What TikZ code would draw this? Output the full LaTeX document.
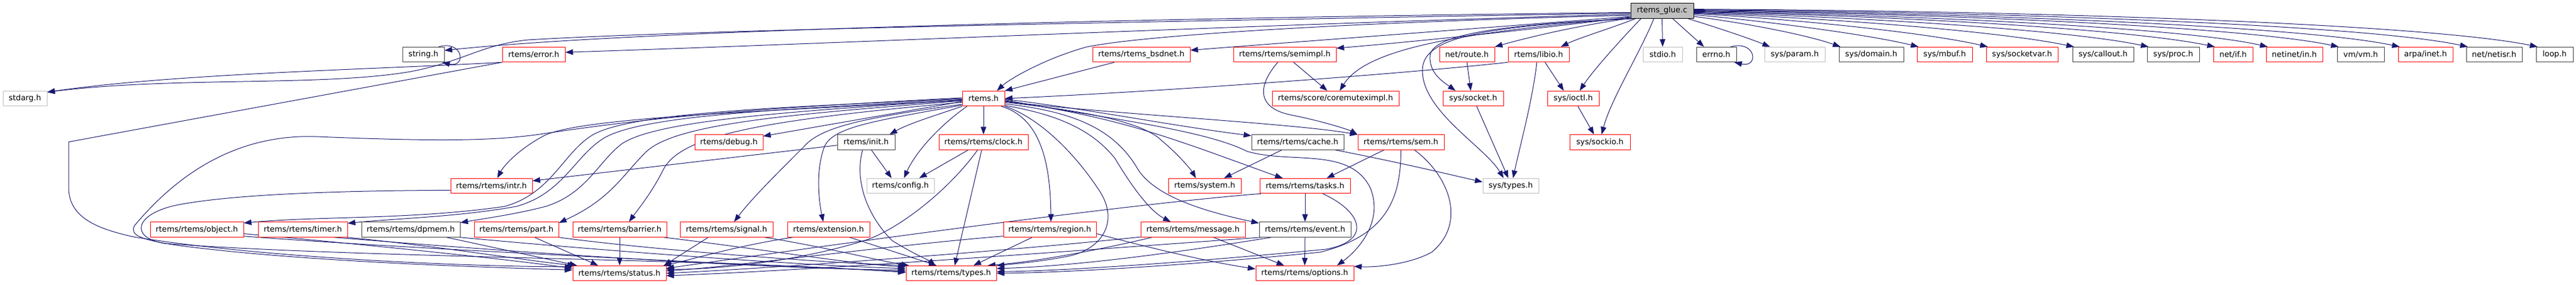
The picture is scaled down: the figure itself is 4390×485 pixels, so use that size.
\documentclass[tikz,border=0pt]{standalone}
\usepackage{fontspec}
\setmainfont{DejaVu Sans}
\usetikzlibrary{arrows.meta}
\definecolor{edgecol}{HTML}{191970}
\definecolor{redc}{HTML}{FF0000}
\definecolor{grayc}{HTML}{BFBFBF}
\definecolor{darkc}{HTML}{404040}
\pgfdeclarelayer{bg}
\pgfsetlayers{bg,main}
\begin{document}
\begin{tikzpicture}[x=1pt,y=-1pt,
  box/.style={rectangle, draw=#1, line width=1pt, fill=white, minimum height=25.5pt, inner sep=0pt, font=\fontsize{13.3}{15}\selectfont, text=black},
  redbox/.style={box=redc}, blkbox/.style={box=darkc}, graybox/.style={box=grayc},
  gluebox/.style={box=black, fill=grayc},
  dep/.style={draw=edgecol, line width=1pt, -{Triangle[length=13pt,width=9.5pt]}}]
\useasboundingbox (0,0) rectangle (4390,485);
% row 0
\node[gluebox, minimum width=107pt] (glue) at (2832.5,18.5) {rtems\_glue.c};
% row 1
\node[blkbox, minimum width=71pt] (string) at (721.5,93) {string.h};
\node[redbox, minimum width=107pt] (error) at (909.5,93) {rtems/error.h};
\node[redbox, minimum width=166pt] (bsdnet) at (1945,93) {rtems/rtems\_bsdnet.h};
\node[redbox, minimum width=175pt] (semimpl) at (2189.5,93) {rtems/rtems/semimpl.h};
\node[redbox, minimum width=94pt] (route) at (2500,93) {net/route.h};
\node[redbox, minimum width=104pt] (libio) at (2622,93) {rtems/libio.h};
\node[graybox, minimum width=67pt] (stdio) at (2833.5,93) {stdio.h};
\node[blkbox, minimum width=68pt] (errno) at (2925,93) {errno.h};
\node[graybox, minimum width=103pt] (param) at (3058.5,93) {sys/param.h};
\node[blkbox, minimum width=110pt] (domain) at (3189,93) {sys/domain.h};
\node[redbox, minimum width=94pt] (mbuf) at (3314,93) {sys/mbuf.h};
\node[redbox, minimum width=122pt] (socketvar) at (3446,93) {sys/socketvar.h};
\node[blkbox, minimum width=104pt] (callout) at (3584,93) {sys/callout.h};
\node[blkbox, minimum width=89pt] (proc) at (3703.5,93) {sys/proc.h};
\node[redbox, minimum width=67pt] (netif) at (3805.5,93) {net/if.h};
\node[redbox, minimum width=96pt] (netinetin) at (3910,93) {netinet/in.h};
\node[blkbox, minimum width=80pt] (vm) at (4023,93) {vm/vm.h};
\node[redbox, minimum width=93pt] (arpainet) at (4133.5,93) {arpa/inet.h};
\node[blkbox, minimum width=95pt] (netisr) at (4250.5,93) {net/netisr.h};
\node[blkbox, minimum width=63pt] (loop) at (4353.5,93) {loop.h};
% row 2
\node[graybox, minimum width=75pt] (stdarg) at (42.5,168) {stdarg.h};
\node[redbox, minimum width=72pt] (rtemsh) at (1676,168) {rtems.h};
\node[redbox, minimum width=216pt] (coremutex) at (2276,168) {rtems/score/coremuteximpl.h};
\node[redbox, minimum width=103pt] (socket) at (2510.5,168) {sys/socket.h};
\node[redbox, minimum width=88pt] (ioctl) at (2681,168) {sys/ioctl.h};
% row 3
\node[redbox, minimum width=116pt] (debug) at (1242,242.5) {rtems/debug.h};
\node[blkbox, minimum width=98pt] (init) at (1476,242.5) {rtems/init.h};
\node[redbox, minimum width=152pt] (clock) at (1676,242.5) {rtems/rtems/clock.h};
\node[blkbox, minimum width=157pt] (cache) at (2211.5,242.5) {rtems/rtems/cache.h};
\node[redbox, minimum width=147pt] (sem) at (2387.5,242.5) {rtems/rtems/sem.h};
\node[redbox, minimum width=103pt] (sockio) at (2726.5,242.5) {sys/sockio.h};
% row 4
\node[redbox, minimum width=139pt] (intr) at (837.5,317) {rtems/rtems/intr.h};
\node[graybox, minimum width=115pt] (config) at (1534.5,317) {rtems/config.h};
\node[redbox, minimum width=124pt] (system) at (2053,317) {rtems/system.h};
\node[redbox, minimum width=154pt] (tasks) at (2224,317) {rtems/rtems/tasks.h};
\node[graybox, minimum width=95pt] (systypes) at (2574.5,317) {sys/types.h};
% row 5
\node[redbox, minimum width=159pt] (object) at (335.5,391.5) {rtems/rtems/object.h};
\node[redbox, minimum width=152pt] (timer) at (516,391.5) {rtems/rtems/timer.h};
\node[blkbox, minimum width=168pt] (dpmem) at (700,391.5) {rtems/rtems/dpmem.h};
\node[redbox, minimum width=144pt] (part) at (880,391.5) {rtems/rtems/part.h};
\node[redbox, minimum width=160pt] (barrier) at (1056,391.5) {rtems/rtems/barrier.h};
\node[redbox, minimum width=158pt] (signal) at (1238,391.5) {rtems/rtems/signal.h};
\node[redbox, minimum width=140pt] (extension) at (1412,391.5) {rtems/extension.h};
\node[redbox, minimum width=158pt] (region) at (1789,391.5) {rtems/rtems/region.h};
\node[redbox, minimum width=178pt] (message) at (2033,391.5) {rtems/rtems/message.h};
\node[blkbox, minimum width=156pt] (event) at (2224,391.5) {rtems/rtems/event.h};
% row 6
\node[redbox, minimum width=159pt] (status) at (1055.5,466) {rtems/rtems/status.h};
\node[redbox, minimum width=154pt] (types) at (1621,466) {rtems/rtems/types.h};
\node[redbox, minimum width=167pt] (options) at (2223.5,466) {rtems/rtems/options.h};

\begin{pgfonlayer}{bg}
% rtems_glue.c, left fan
\draw[dep] (glue.183) .. controls (2000,30) and (1100,50) .. (string.11);
\draw[dep] (glue.184) .. controls (2000,36) and (1200,50) .. (900,68) .. controls (820,76) and (790,105) .. (700,122) .. controls (550,148) and (300,130) .. (stdarg.16);
\draw[dep] (glue.186) .. controls (2200,40) and (1400,75) .. (error.4);
\draw[dep] (glue.188) .. controls (2300,38) and (1950,60) .. (1852,80) .. controls (1780,100) and (1720,135) .. (rtemsh.30);
\draw[dep] (glue.190) .. controls (2500,50) and (2200,72) .. (bsdnet.5);
\draw[dep] (glue.191) .. controls (2600,52) and (2400,72) .. (semimpl.7);
\draw[dep] (glue.192) .. controls (2500,55) and (2330,80) .. (coremutex.62);
\draw[dep] (glue.193) .. controls (2680,45) and (2600,65) .. (route.north east);
\draw[dep] (glue.196) .. controls (2550,42) and (2440,60) .. (2437,95) .. controls (2435,125) and (2460,140) .. ([xshift=-30pt]socket.north);
\draw[dep] (glue.195) .. controls (2520,45) and (2424,65) .. (2424,120) .. controls (2424,190) and (2530,250) .. ([xshift=-12pt]systypes.north);
\draw[dep] ([xshift=-45pt]glue.south) .. controls (2740,50) and (2690,65) .. ([xshift=38pt]libio.north);
\draw[dep] ([xshift=-36pt]glue.south) .. controls (2760,70) and (2715,120) .. ([xshift=11pt]ioctl.north);
\draw[dep] ([xshift=-14pt]glue.south) .. controls (2795,90) and (2745,170) .. ([xshift=3pt]sockio.north);
% rtems_glue.c, right fan
\draw[dep] (glue.south) -- (stdio.north);
\draw[dep] ([xshift=18pt]glue.south) -- ([xshift=-21pt]errno.north);
\draw[dep] ([xshift=44pt]glue.south) .. controls (2920,45) and (2980,65) .. ([xshift=-42pt]param.north);
\draw[dep] (glue.-10) .. controls (2980,40) and (3080,60) .. ([xshift=3pt]domain.north west);
\draw[dep] (glue.-7) .. controls (3000,35) and (3180,58) .. ([xshift=3pt]mbuf.north west);
\draw[dep] (glue.-5) .. controls (3050,32) and (3280,55) .. ([xshift=3pt]socketvar.north west);
\draw[dep] (glue.-4) .. controls (3100,30) and (3400,52) .. ([xshift=3pt]callout.north west);
\draw[dep] (glue.-3) .. controls (3150,28) and (3520,50) .. ([xshift=3pt]proc.north west);
\draw[dep] (glue.-2) .. controls (3200,26) and (3620,48) .. ([xshift=3pt]netif.north west);
\draw[dep] (glue.-1) .. controls (3250,25) and (3720,47) .. ([xshift=3pt]netinetin.north west);
\draw[dep] (glue.0) .. controls (3300,23) and (3820,45) .. ([xshift=3pt]vm.north west);
\draw[dep] (glue.1) .. controls (3350,22) and (3920,44) .. ([xshift=3pt]arpainet.north west);
\draw[dep] (glue.2) .. controls (3400,20) and (4030,42) .. ([xshift=3pt]netisr.north west);
\draw[dep] (glue.3) .. controls (3450,18) and (4130,40) .. ([xshift=3pt]loop.north west);
% self loops
\draw[dep] ([xshift=-10pt]string.north east) .. controls (790,68) and (795,116) .. ([xshift=-4pt]string.south east);
\draw[dep] ([xshift=-10pt]errno.north east) .. controls (2993,68) and (2998,116) .. ([xshift=-4pt]errno.south east);
% error.h
\draw[dep] (error.south west) .. controls (650,118) and (300,125) .. (stdarg.16);
\draw[dep] (error.south west) -- (117,242) -- (117,320) .. controls (117,375) and (175,392) .. (228,404) .. controls (450,440) and (800,455) .. (status.172);
% second level
\draw[dep] ([xshift=-46pt]bsdnet.south) -- (rtemsh.20);
\draw[dep] (libio.south west) .. controls (2400,125) and (2000,155) .. (rtemsh.east);
\draw[dep] ([xshift=15pt]semimpl.south) -- ([xshift=-14pt]coremutex.north);
\draw[dep] ([xshift=-12pt]semimpl.south) .. controls (2140,150) and (2145,185) .. (2200,196) .. controls (2260,208) and (2300,222) .. (sem.170);
\draw[dep] (route.south) -- ([xshift=-4pt]socket.north);
\draw[dep] ([xshift=6pt]socket.south) -- ([xshift=-4pt]systypes.north);
\draw[dep] ([xshift=-3pt]libio.south) .. controls (2612,170) and (2590,250) .. ([xshift=4pt]systypes.north);
\draw[dep] ([xshift=11pt]libio.south) -- ([xshift=-16pt]ioctl.north);
\draw[dep] ([xshift=8pt]ioctl.south) -- ([xshift=-10pt]sockio.north);
% rtems.h, left side
\draw[dep] (rtemsh.188) -- (debug.10);
\draw[dep] (rtemsh.200) .. controls (1600,195) and (1550,210) .. ([xshift=40pt]init.north);
\draw[dep] (rtemsh.south) -- (clock.north);
\draw[dep] ([xshift=-28pt]rtemsh.south) .. controls (1600,215) and (1560,260) .. ([xshift=6pt]config.north);
\draw[dep] (rtemsh.185) .. controls (1300,190) and (1000,200) .. (930,230) .. controls (890,250) and (860,280) .. ([xshift=10pt]intr.north);
\draw[dep] (rtemsh.180) .. controls (1350,183) and (1080,190) .. (1010,230) .. controls (960,260) and (940,330) .. (860,352) .. controls (700,375) and (550,368) .. (object.8);
\draw[dep] (rtemsh.182) .. controls (1350,186) and (1100,195) .. (1030,235) .. controls (980,265) and (960,330) .. (880,352) .. controls (780,370) and (680,372) .. (timer.8);
\draw[dep] (rtemsh.184) .. controls (1350,190) and (1120,205) .. (1060,245) .. controls (1020,275) and (1000,330) .. (930,352) .. controls (880,365) and (830,372) .. (dpmem.8);
\draw[dep] (rtemsh.186) .. controls (1350,195) and (1150,210) .. (1100,260) .. controls (1060,300) and (1040,340) .. (part.9);
\draw[dep] (rtemsh.190) .. controls (1300,205) and (1160,230) .. (1130,290) .. controls (1110,330) and (1085,360) .. ([xshift=16pt]barrier.north);
\draw[dep] (rtemsh.178) .. controls (1300,185) and (1150,195) .. (933,227) .. controls (850,240) and (760,242) .. (540,233) .. controls (400,228) and (300,300) .. (229,385) .. controls (222,400) and (235,408) .. (300,418) .. controls (500,445) and (800,455) .. (status.176);
\draw[dep] (rtemsh.195) .. controls (1480,200) and (1400,215) .. (1370,250) .. controls (1320,300) and (1280,340) .. ([xshift=13pt]signal.north);
\draw[dep] (rtemsh.197) .. controls (1500,205) and (1420,215) .. (1405,250) .. controls (1390,290) and (1395,340) .. ([xshift=-9pt]extension.north);
% rtems.h, right side
\draw[dep] ([xshift=30pt]rtemsh.south) .. controls (1770,200) and (1790,270) .. ([xshift=2pt]region.north);
\draw[dep] (rtemsh.-20) .. controls (1770,200) and (1830,260) .. (1870,320) .. controls (1910,375) and (1880,425) .. (1820,437) .. controls (1780,445) and (1730,450) .. (types.north east);
\draw[dep] (rtemsh.-18) .. controls (1800,195) and (1860,220) .. (1900,270) .. controls (1930,320) and (1960,360) .. ([xshift=-38pt]message.north);
\draw[dep] (rtemsh.-14) .. controls (1830,190) and (1900,220) .. (1940,290) .. controls (1970,335) and (2050,360) .. (event.172);
\draw[dep] (rtemsh.-10) .. controls (1860,190) and (1950,210) .. (1980,240) .. controls (2010,265) and (2030,290) .. ([xshift=-15pt]system.north);
\draw[dep] (rtemsh.-6) .. controls (1870,195) and (1950,220) .. (2050,255) .. controls (2120,280) and (2160,295) .. ([xshift=-38pt]tasks.north);
\draw[dep] (rtemsh.-4) .. controls (1870,200) and (2050,220) .. (2125,258) .. controls (2200,280) and (2300,250) .. (2335,320) .. controls (2360,380) and (2310,430) .. ([xshift=55pt]options.north);
\draw[dep] (rtemsh.-2) .. controls (1850,185) and (2000,215) .. (cache.172);
\draw[dep] (rtemsh.-8) .. controls (1900,195) and (2200,210) .. (sem.170);
% init.h, clock.h
\draw[dep] (init.186) -- (intr.7);
\draw[dep] ([xshift=9pt]init.south) -- ([xshift=-15pt]config.north);
\draw[dep] ([xshift=-6pt]init.south) .. controls (1455,310) and (1480,370) .. (1520,410) .. controls (1555,432) and (1585,445) .. ([xshift=-27pt]types.north);
\draw[dep] ([xshift=-26pt]clock.south) -- ([xshift=32pt]config.north);
\draw[dep] ([xshift=-10pt]clock.south) .. controls (1620,320) and (1540,385) .. (1480,408) .. controls (1350,450) and (1200,460) .. (status.5);
\draw[dep] ([xshift=-3pt]clock.south) -- ([xshift=6pt]types.north);
% cache.h, sem.h, tasks.h
\draw[dep] ([xshift=-27pt]cache.south) -- ([xshift=33pt]system.north);
\draw[dep] ([xshift=64pt]cache.south) .. controls (2400,280) and (2480,300) .. (systypes.172);
\draw[dep] ([xshift=-29pt]sem.south) -- ([xshift=37pt]tasks.north);
\draw[dep] (sem.south) .. controls (2387,330) and (2370,400) .. (2250,430) .. controls (2000,455) and (1800,465) .. (types.east);
\draw[dep] ([xshift=23pt]sem.south) .. controls (2470,300) and (2500,380) .. (2440,430) .. controls (2400,452) and (2340,456) .. (options.8);
\draw[dep] (tasks.south) -- (event.north);
\draw[dep] (tasks.190) .. controls (1900,350) and (1400,420) .. (status.6);
\draw[dep] ([xshift=30pt]tasks.south) .. controls (2320,360) and (2340,410) .. (2260,425) .. controls (2000,450) and (1800,462) .. (types.2);
% intr.h
\draw[dep] (intr.186) .. controls (600,325) and (400,330) .. (300,350) .. controls (230,365) and (220,405) .. (280,415) .. controls (600,440) and (1200,440) .. (types.179);
% row 5 to row 6
\draw[dep] (object.-5) .. controls (600,415) and (850,440) .. (status.174);
\draw[dep] (object.-8) .. controls (700,425) and (1300,452) .. (types.178);
\draw[dep] (timer.-10) .. controls (750,420) and (900,445) .. (status.170);
\draw[dep] (timer.-14) .. controls (900,432) and (1300,458) .. (types.176);
\draw[dep] ([xshift=61pt]dpmem.south) -- ([xshift=-72pt]status.north);
\draw[dep] (dpmem.south east) .. controls (1000,425) and (1350,452) .. (types.174);
\draw[dep] ([xshift=31pt]part.south) -- ([xshift=-36pt]status.north);
\draw[dep] (part.south east) .. controls (1100,425) and (1400,448) .. (types.170);
\draw[dep] (barrier.south) -- ([xshift=0.5pt]status.north);
\draw[dep] (barrier.-10) .. controls (1300,425) and (1450,450) .. (types.172);
\draw[dep] ([xshift=-31pt]signal.south) -- ([xshift=-4pt]status.north east);
\draw[dep] ([xshift=65pt]signal.south) .. controls (1400,420) and (1500,445) .. ([xshift=-72pt]types.north);
\draw[dep] ([xshift=-61pt]extension.south) .. controls (1250,420) and (1170,445) .. (status.10);
\draw[dep] ([xshift=36pt]extension.south) -- ([xshift=-25pt]types.north);
\draw[dep] (region.188) .. controls (1500,420) and (1250,455) .. (status.3);
\draw[dep] ([xshift=-30pt]region.south) -- ([xshift=38pt]types.north);
\draw[dep] (region.-5) .. controls (1950,420) and (2050,445) .. (options.175);
\draw[dep] (message.188) .. controls (1700,430) and (1300,458) .. (status.0);
\draw[dep] ([xshift=-70pt]message.south) .. controls (1900,420) and (1780,445) .. (types.12);
\draw[dep] ([xshift=35pt]message.south) -- ([xshift=-35pt]options.north);
\draw[dep] (event.south) -- (options.north);
\draw[dep] (event.190) .. controls (1800,430) and (1400,460) .. (status.-3);
\draw[dep] (event.193) .. controls (1950,440) and (1800,455) .. (types.6);
\end{pgfonlayer}
\end{tikzpicture}
\end{document}
